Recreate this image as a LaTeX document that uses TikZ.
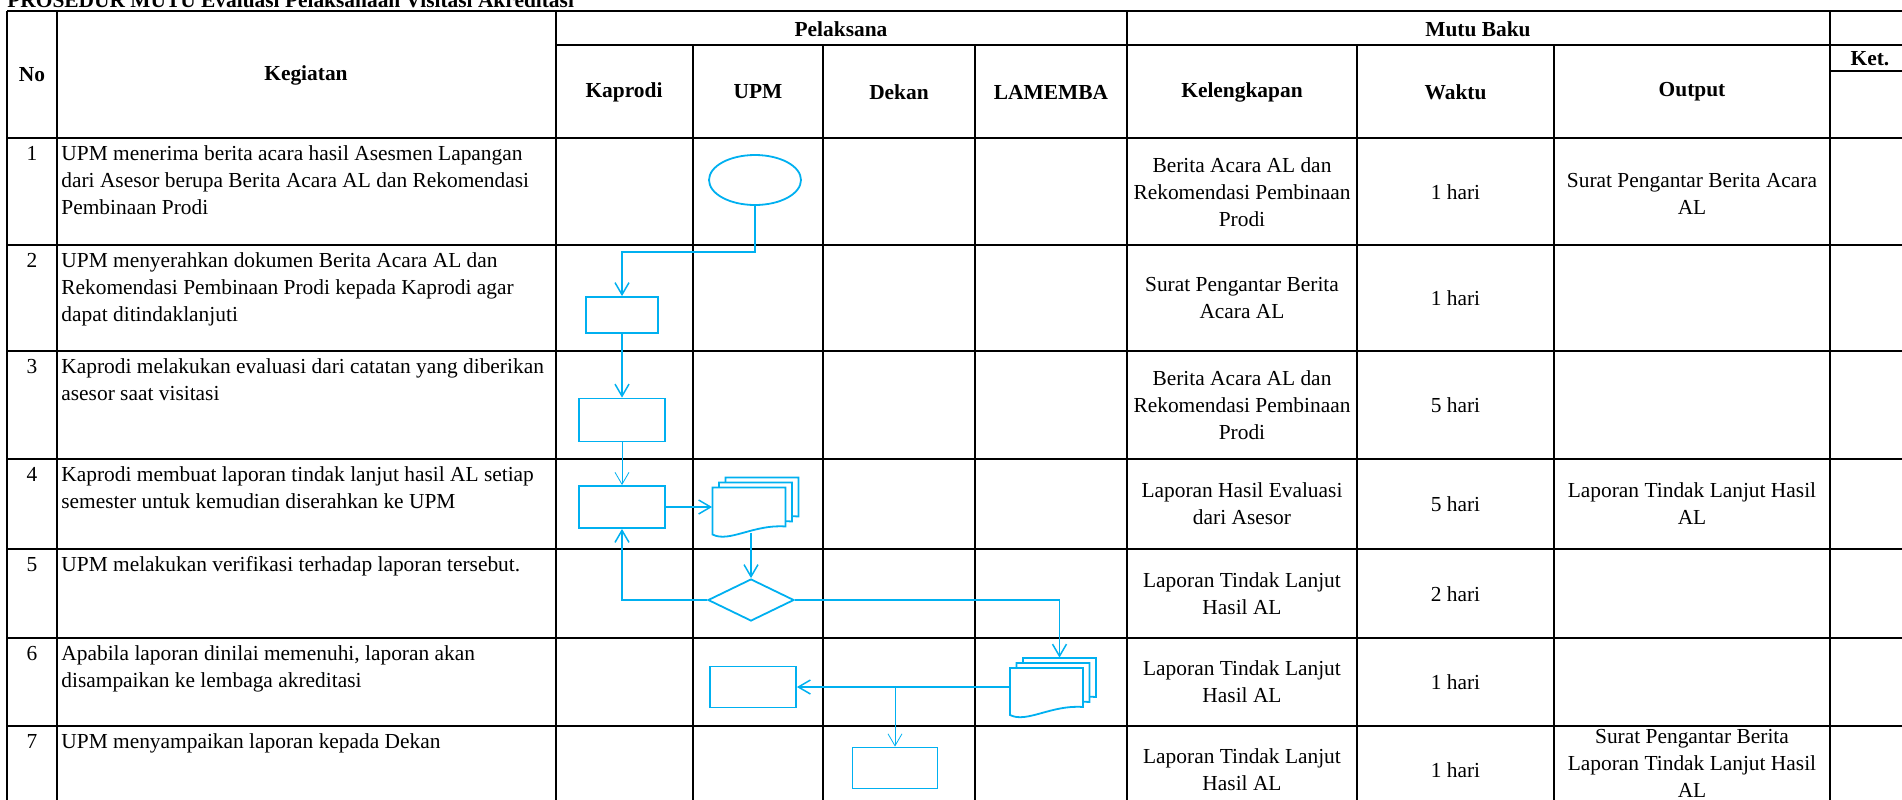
\documentclass[tikz,border=0pt]{standalone}
\usepackage{fontspec}
\setmainfont{Liberation Serif}
\usetikzlibrary{arrows.meta,shapes.geometric,calc}
\definecolor{flowblue}{RGB}{0,176,240}
\tikzset{
  docs/.pic={
    \foreach \s in {2,1,0}
      \draw[flowline, fill=white, shift={(\s*6.5,\s*5)}]
        (-36.5,-23.5) -- (-36.5,23.5) -- (36.5,23.5) -- (36.5,-15.5)
        .. controls (5,-13) and (-20,-32) .. (-36.5,-23.5) -- cycle;
  }
}
\begin{document}
\begin{tikzpicture}[x=0.5pt, y=0.5pt,
  every node/.style={inner sep=0pt, font=\fontsize{10.7}{13.5}\selectfont},
  hrule/.style={line width=1.1pt},
  vrule/.style={line width=0.8pt},
  head/.style={font=\fontsize{10.7}{13.5}\selectfont\bfseries},
  task/.style={anchor=north west, align=left},
  num/.style={anchor=base},
  mid/.style={align=center},
  flowline/.style={draw=flowblue, line width=0.9pt},
  proc/.style={flowline, rectangle, fill=white},
  docbox/.style={minimum width=36.5pt, minimum height=23.5pt},
  conn/.style={flowblue, line width=0.75pt, -{Straight Barb[length=6pt,width=7pt]}}
]
\useasboundingbox (0,0) rectangle (1902,-799);

\node[head, anchor=base west] (title) at (7,-7) {PROSEDUR MUTU Evaluasi Pelaksanaan Visitasi Akreditasi};

\draw[hrule] (7,-11) -- (1906,-11);
\draw[hrule] (556,-45) -- (1906,-45);
\draw[hrule] (1830,-71) -- (1906,-71);
\foreach \y in {138,245,351,459,549,638,726,814}
  \draw[hrule] (7,-\y) -- (1906,-\y);
\foreach \x in {7,57,556,1127,1830}
  \draw[vrule] (\x,-11) -- (\x,-814);
\foreach \x in {693,823,975,1357,1554}
  \draw[vrule] (\x,-45) -- (\x,-814);

\node[head] (hno) at (32,-75) {No};
\node[head] (hkeg) at (306,-75) {Kegiatan};
\node[head] (hpel) at (841,-29) {Pelaksana};
\node[head] (hmutu) at (1478,-29) {Mutu Baku};
\node[head] (hkap) at (624,-92) {Kaprodi};
\node[head] (hupm) at (758,-92) {UPM};
\node[head] (hdek) at (899,-92) {Dekan};
\node[head] (hlam) at (1051,-92) {LAMEMBA};
\node[head] (hkel) at (1242,-92) {Kelengkapan};
\node[head] (hwkt) at (1455.5,-92) {Waktu};
\node[head] (hout) at (1692,-92) {Output};
\node[head] (hket) at (1870,-59) {Ket.};

\node[num] (no1) at (32,-160) {1};
\node[num] (no2) at (32,-267) {2};
\node[num] (no3) at (32,-373) {3};
\node[num] (no4) at (32,-481) {4};
\node[num] (no5) at (32,-571) {5};
\node[num] (no6) at (32,-660) {6};
\node[num] (no7) at (32,-748) {7};

\node[task] (task1) at (61,-145) {UPM menerima berita acara hasil Asesmen Lapangan\\dari Asesor berupa Berita Acara AL dan Rekomendasi\\Pembinaan Prodi};
\node[task] (task2) at (61,-252) {UPM menyerahkan dokumen Berita Acara AL dan\\Rekomendasi Pembinaan Prodi kepada Kaprodi agar\\dapat ditindaklanjuti};
\node[task] (task3) at (61,-358) {Kaprodi melakukan evaluasi dari catatan yang diberikan\\asesor saat visitasi};
\node[task] (task4) at (61,-466) {Kaprodi membuat laporan tindak lanjut hasil AL setiap\\semester untuk kemudian diserahkan ke UPM};
\node[task] (task5) at (61,-556) {UPM melakukan verifikasi terhadap laporan tersebut.};
\node[task] (task6) at (61,-645) {Apabila laporan dinilai memenuhi, laporan akan\\disampaikan ke lembaga akreditasi};
\node[task] (task7) at (61,-733) {UPM menyampaikan laporan kepada Dekan};

\node[mid] (kel1) at (1242,-192) {Berita Acara AL dan\\Rekomendasi Pembinaan\\Prodi};
\node[mid] (kel2) at (1242,-298) {Surat Pengantar Berita\\Acara AL};
\node[mid] (kel3) at (1242,-405) {Berita Acara AL dan\\Rekomendasi Pembinaan\\Prodi};
\node[mid] (kel4) at (1242,-504) {Laporan Hasil Evaluasi\\dari Asesor};
\node[mid] (kel5) at (1242,-594) {Laporan Tindak Lanjut\\Hasil AL};
\node[mid] (kel6) at (1242,-682) {Laporan Tindak Lanjut\\Hasil AL};
\node[mid] (kel7) at (1242,-770) {Laporan Tindak Lanjut\\Hasil AL};

\node (wkt1) at (1455.5,-192) {1 hari};
\node (wkt2) at (1455.5,-298) {1 hari};
\node (wkt3) at (1455.5,-405) {5 hari};
\node (wkt4) at (1455.5,-504) {5 hari};
\node (wkt5) at (1455.5,-594) {2 hari};
\node (wkt6) at (1455.5,-682) {1 hari};
\node (wkt7) at (1455.5,-770) {1 hari};

\node[mid] (out1) at (1692,-194) {Surat Pengantar Berita Acara\\AL};
\node[mid] (out4) at (1692,-504) {Laporan Tindak Lanjut Hasil\\AL};
\node[mid] (out7) at (1692,-763) {Surat Pengantar Berita\\Laporan Tindak Lanjut Hasil\\AL};

\node[proc, ellipse, minimum width=46pt, minimum height=25pt] (start) at (755,-180) {};
\node[proc, minimum width=36pt, minimum height=18pt] (box2) at (622,-315) {};
\node[proc, minimum width=43pt, minimum height=21.5pt] (box3) at (622,-420) {};
\node[proc, minimum width=43pt, minimum height=21pt] (box4) at (622,-507) {};
\node[docbox] (docs1) at (749,-511) {};
\path (docs1) pic {docs};
\node[proc, diamond, aspect=2, minimum width=43pt, minimum height=21pt] (check) at (751,-600) {};
\node[docbox] (docs2) at (1046.5,-691.5) {};
\path (docs2) pic {docs};
\node[proc, minimum width=43pt, minimum height=20.5pt] (box6) at (753,-687) {};
\node[proc, minimum width=42.5pt, minimum height=20.5pt] (box7) at (895,-768) {};

\draw[conn] (start.south) -- ++(0,-46) -| (box2.north);
\draw[conn] (box2.south) -- (box3.north);
\draw[conn, thin] (box3.south) -- (box4.north);
\draw[conn] (box4.east) -- (box4.east -| docs1.west);
\draw[conn] ($(check.north |- docs1.south)+(0,2)$) -- (check.north);
\draw[conn] (check.west) -| (box4.south);
\draw[conn] (check.east) -| ([xshift=6.5pt,yshift=5pt]docs2.north);
\draw[conn] (docs2.west |- box6.east) -- (box6.east);
\draw[conn, thin] (box6.east -| box7.north) -- (box7.north);
\end{tikzpicture}
\end{document}
